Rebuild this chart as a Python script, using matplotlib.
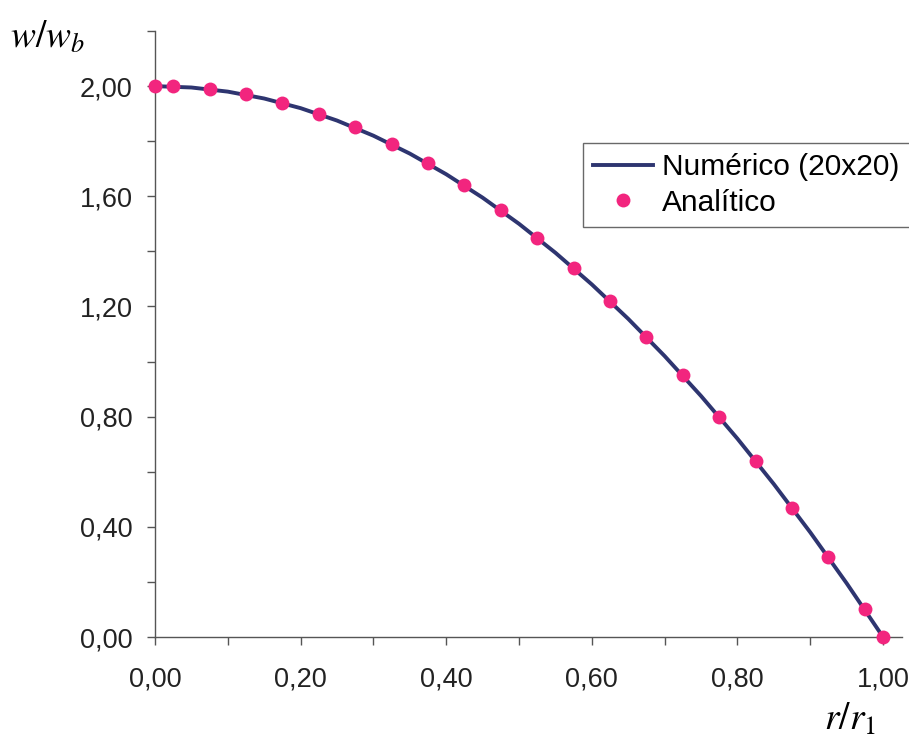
import matplotlib
matplotlib.use("Agg")
import matplotlib.pyplot as plt

# Dados
r_analitico = [0.0, 0.025, 0.075, 0.125, 0.175, 0.225, 0.275, 0.325, 0.375, 0.425, 0.475,
               0.525, 0.575, 0.625, 0.675, 0.725, 0.775, 0.825, 0.875, 0.925, 0.975, 1.0]
w_analitico = [2.00, 2.00, 1.99, 1.97, 1.94, 1.90, 1.85, 1.79, 1.72, 1.64, 1.55,
               1.45, 1.34, 1.22, 1.09, 0.95, 0.80, 0.64, 0.47, 0.29, 0.10, 0.00]

r_numerico = [0.0, 0.05, 0.10, 0.15, 0.20, 0.25, 0.30, 0.35, 0.40, 0.45, 0.50,
              0.55, 0.60, 0.65, 0.70, 0.75, 0.80, 0.85, 0.90, 0.95, 1.0]
w_numerico = [2.00, 1.995, 1.98, 1.955, 1.92, 1.875, 1.82, 1.755, 1.68, 1.595, 1.50,
              1.395, 1.28, 1.155, 1.02, 0.875, 0.72, 0.555, 0.38, 0.195, 0.00]

x_ticks = [0.0, 0.2, 0.4, 0.6, 0.8, 1.0]
x_labels = ["0,00", "0,20", "0,40", "0,60", "0,80", "1,00"]
y_ticks = [0.0, 0.4, 0.8, 1.2, 1.6, 2.0]
y_labels = ["0,00", "0,40", "0,80", "1,20", "1,60", "2,00"]

plt.rcParams['font.family'] = ['Liberation Sans', 'DejaVu Sans']
plt.rcParams['mathtext.fontset'] = 'stix'

fig = plt.figure(figsize=(9.09, 7.44), dpi=100)
ax = fig.add_axes([0.1705, 0.1438, 0.8218, 0.8145])

ax.plot(r_numerico, w_numerico, color='#2E3570', lw=2.8, label='Numérico (20x20)', zorder=2)
ax.plot(r_analitico, w_analitico, 'o', color='#F2257E', ms=10, mec='none',
        label='Analítico', zorder=3, clip_on=False)

ax.set_xlim(0, 1.026)
ax.set_ylim(0, 2.2)

ax.set_xticks(x_ticks)
ax.set_xticklabels(x_labels)
ax.set_yticks(y_ticks)
ax.set_yticklabels(y_labels)
ax.set_xticks([0.1, 0.3, 0.5, 0.7, 0.9], minor=True)
ax.set_yticks([0.2, 0.6, 1.0, 1.4, 1.8, 2.2], minor=True)

for s in ['top', 'right']:
    ax.spines[s].set_visible(False)
for s in ['left', 'bottom']:
    ax.spines[s].set_color('#555555')
    ax.spines[s].set_linewidth(1.0)

ax.tick_params(axis='both', which='both', direction='out', length=6, width=1.0,
               color='#555555', labelsize=19.5, labelcolor='#222222')
ax.tick_params(axis='x', which='major', pad=15)
ax.tick_params(axis='y', which='major', pad=10)

leg = ax.legend(loc='upper left', bbox_to_anchor=(583 / 909, 1 - 143 / 744),
                bbox_transform=fig.transFigure, fontsize=21.5, frameon=True,
                fancybox=False, edgecolor='#444444', handlelength=2.0,
                handletextpad=0.3, borderpad=0.35, labelspacing=0.25,
                borderaxespad=0)
leg.get_frame().set_linewidth(1.0)

fig.text(10 / 909, 1 - 48 / 744, r'$w/w_b$', fontsize=27, ha='left', va='baseline')
fig.text(824 / 909, 1 - 730 / 744, r'$r/r_1$', fontsize=27, ha='left', va='baseline')

fig.savefig('out.png', dpi=100)
